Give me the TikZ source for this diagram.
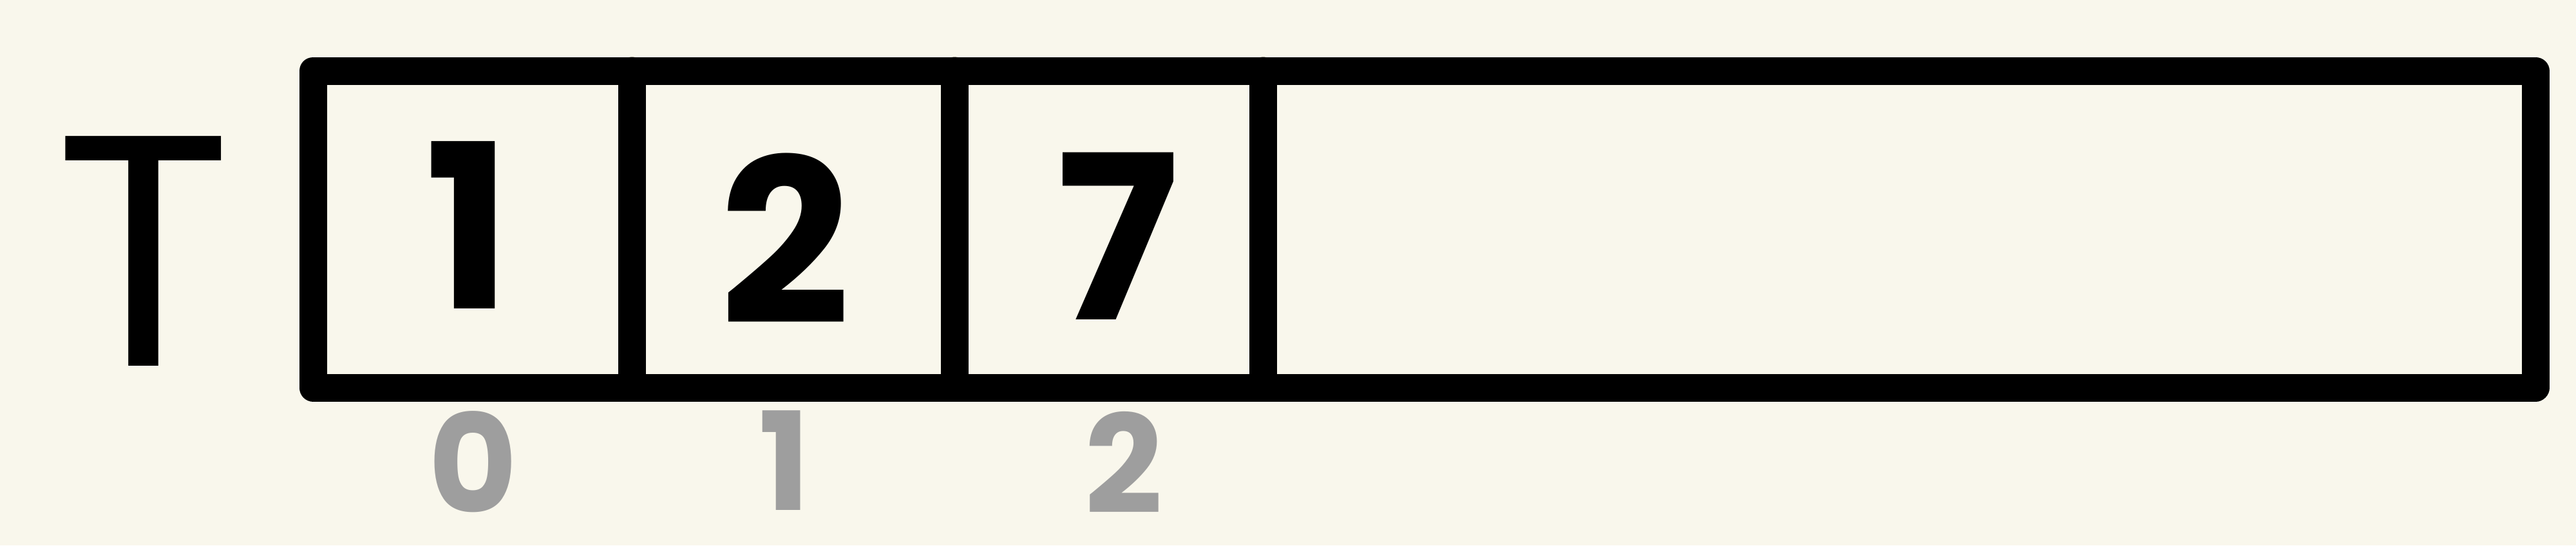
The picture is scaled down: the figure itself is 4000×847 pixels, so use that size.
\documentclass[tikz,border=0pt]{standalone}
\usepackage{fontspec}
\setmainfont{Poppins}
\definecolor{bg}{HTML}{F9F7EC}
\definecolor{idx}{HTML}{9E9E9E}
\begin{document}
\begin{tikzpicture}[x=0.25pt,y=-0.25pt,
  cellline/.style={line width=10.75pt, line join=round, line cap=round, draw=black},
  val/.style={font=\fontsize{89}{89}\selectfont\bfseries, inner sep=0pt, text=black},
  namelabel/.style={font=\fontsize{128}{128}\selectfont, inner sep=0pt, text=black},
  idxlabel/.style={font=\fontsize{53}{53}\selectfont\bfseries, inner sep=0pt, text=idx}]
\fill[bg] (0,0) rectangle (4000,847);
\useasboundingbox (0,0) rectangle (4000,847);
% array outline
\coordinate (tl) at (486,110);
\coordinate (br) at (3937,602);
\draw[cellline] (tl) rectangle (br);
\foreach \x/\n in {981/a,1482/b,1961/c}{
  \coordinate (\n top) at (\x,110);
  \coordinate (\n bot) at (\x,602);
  \draw[cellline] (\n top) -- (\n bot);
}
% array name
\node[namelabel] (name) at (223,390) {T};
% values
\node[val] (v0) at (727,350) {1};
\node[val] (v1) at (1219,371) {2};
\node[val] (v2) at (1736,367) {7};
% indices
\node[idxlabel] (i0) at (735,718) {0};
\node[idxlabel] (i1) at (1218,715) {1};
\node[idxlabel] (i2) at (1745,718) {2};
\end{tikzpicture}
\end{document}
